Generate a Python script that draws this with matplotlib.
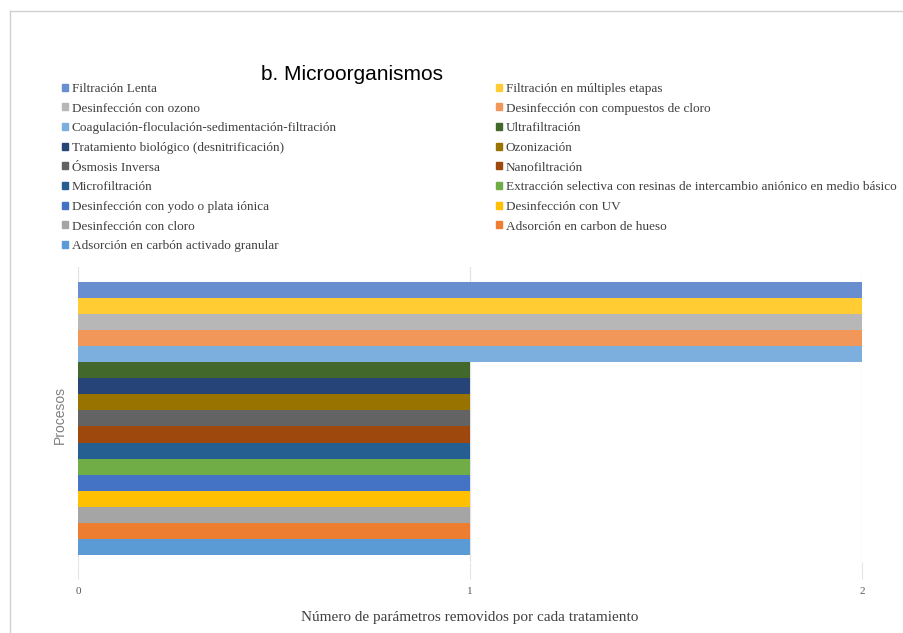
import matplotlib
matplotlib.use("Agg")
import matplotlib.pyplot as plt
import matplotlib.patches as mpatches
from matplotlib.lines import Line2D

# Series in Excel order (first series is drawn at the bottom)
procesos = [
    "Adsorción en carbón activado granular",
    "Adsorción en carbon de hueso",
    "Desinfección con cloro",
    "Desinfección con UV",
    "Desinfección con yodo o plata iónica",
    "Extracción selectiva con resinas de intercambio aniónico en medio básico",
    "Microfiltración",
    "Nanofiltración",
    "Ósmosis Inversa",
    "Ozonización",
    "Tratamiento biológico (desnitrificación)",
    "Ultrafiltración",
    "Coagulación-floculación-sedimentación-filtración",
    "Desinfección con compuestos de cloro",
    "Desinfección con ozono",
    "Filtración en múltiples etapas",
    "Filtración Lenta",
]
parametros = [1, 1, 1, 1, 1, 1, 1, 1, 1, 1, 1, 1, 2, 2, 2, 2, 2]
colores = [
    "#5B9BD5", "#ED7D31", "#A5A5A5", "#FFC000", "#4472C4", "#70AD47",
    "#255E91", "#9E480E", "#636363", "#997300", "#264478", "#43682B",
    "#7CAFDD", "#F1975A", "#B7B7B7", "#FFCD33", "#698ED0",
]
xticks = [0, 1, 2]

W, H = 904, 633
fig = plt.figure(figsize=(W / 100, H / 100), dpi=100)

# axes placed in pixel terms
left_px, right_px, top_px, bottom_px = 78, 862, 267, 562
ax = fig.add_axes([left_px / W, 1 - bottom_px / H,
                   (right_px - left_px) / W, (bottom_px - top_px) / H])

ypos = list(range(len(procesos)))
ax.barh(ypos, parametros, height=1.0, color=colores, zorder=3)

ax.set_xlim(0, 2)
ax.set_ylim(-0.94, len(procesos) - 0.5 + 0.93)
ax.set_xticks(xticks)
ax.set_xticklabels([str(t) for t in xticks], family="Liberation Serif",
                   fontsize=8, color="#595959")
ax.tick_params(axis="x", length=12, color="#E6E6E6", pad=6)
ax.set_yticks([])
ax.grid(axis="x", color="#E3E3E3", linewidth=0.9, zorder=0)
for s in ax.spines.values():
    s.set_visible(False)

ax.set_ylabel("Procesos", family="Liberation Sans", fontsize=10,
              color="#7F7F7F", labelpad=8)
ax.set_xlabel("Número de parámetros removidos por cada tratamiento",
              family="Liberation Serif", fontsize=11, color="#404040",
              labelpad=11)

fig.text(352 / W, 1 - 75 / H, "b. Microorganismos", family="Liberation Sans",
         fontsize=15, ha="center", va="center", color="black")

# legend: reversed order, filled row by row in two columns
handles = [mpatches.Patch(color=c, label=p) for p, c in zip(procesos, colores)][::-1]
left_col = handles[0::2]
right_col = handles[1::2]
leg_kw = dict(frameon=False, handlelength=0.45, handleheight=0.45,
              handletextpad=0.3, labelspacing=0.58, borderpad=0, borderaxespad=0,
              prop={"family": "Liberation Serif", "size": 9.5})
leg1 = fig.legend(handles=left_col, loc="upper left",
                  bbox_to_anchor=(62 / W, 1 - 83 / H), labelcolor="#404040", **leg_kw)
leg2 = fig.legend(handles=right_col, loc="upper left",
                  bbox_to_anchor=(496 / W, 1 - 83 / H), labelcolor="#404040", **leg_kw)

# faint chart frame
fig.add_artist(Line2D([10 / W, 1], [1 - 11 / H, 1 - 11 / H], color="#D0D0D0", linewidth=1))
fig.add_artist(Line2D([10 / W, 10 / W], [0, 1 - 11 / H], color="#D0D0D0", linewidth=1))

fig.savefig("out.png", dpi=100)
